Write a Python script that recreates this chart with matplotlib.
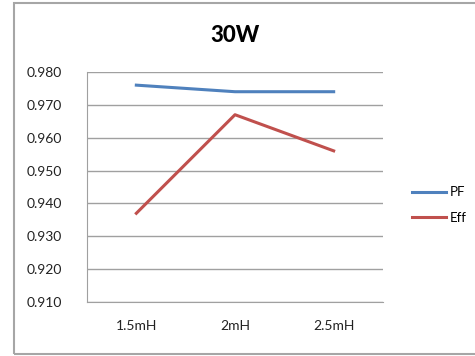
import matplotlib.pyplot as plt
from matplotlib.patches import Rectangle

categories = ["1.5mH", "2mH", "2.5mH"]
pf = [0.976, 0.974, 0.974]
eff = [0.937, 0.967, 0.956]
yticks = [0.910, 0.920, 0.930, 0.940, 0.950, 0.960, 0.970, 0.980]

plt.rcParams['font.family'] = ['Lato', 'DejaVu Sans']

fig = plt.figure(figsize=(4.75, 3.56), dpi=100)
fig.patches.append(Rectangle((14/475, 2/356), 1.2, 351/356, transform=fig.transFigure,
                             fill=False, edgecolor='#a6a6a6', linewidth=1.5))

ax = fig.add_axes([87/475, 1 - 302/356, 296/475, 230/356])
x = range(len(categories))
ax.plot(x, pf, color='#4f81bd', linewidth=2.2, label='PF')
ax.plot(x, eff, color='#c0504d', linewidth=2.2, label='Eff')

ax.set_xlim(-0.5, 2.5)
ax.set_ylim(0.910, 0.980)
ax.set_yticks(yticks)
ax.set_yticklabels(["%.3f" % v for v in yticks])
ax.set_xticks(list(x))
ax.set_xticklabels(categories)
ax.yaxis.grid(True, color='#a0a0a0', linewidth=1)
ax.set_axisbelow(True)
ax.tick_params(length=0, labelsize=10, colors='#222222')
ax.tick_params(axis='y', pad=18)
ax.tick_params(axis='x', pad=13)
for s in ['top', 'right']:
    ax.spines[s].set_visible(False)
for s in ['left', 'bottom']:
    ax.spines[s].set_color('#a0a0a0')

fig.text(235/475, 1 - 35/356, "30W", ha='center', va='center', fontsize=16, fontweight='black')

ax.legend(loc='center left', bbox_to_anchor=(400/475, 1 - 205/356), bbox_transform=fig.transFigure,
          frameon=False, fontsize=9.5, handlelength=2.6, handletextpad=0.3, labelspacing=1.0)

fig.savefig("out.png", dpi=100)
